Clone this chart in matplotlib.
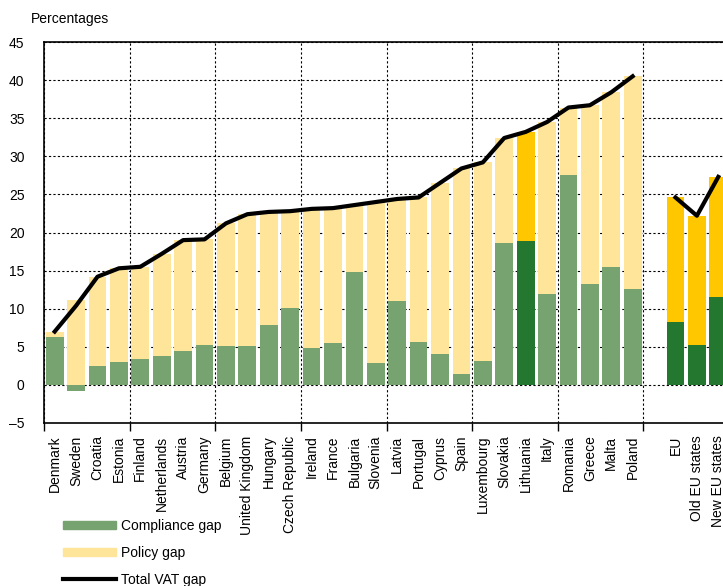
import numpy as np
import matplotlib
matplotlib.use("Agg")
import matplotlib.pyplot as plt
from matplotlib.patches import Patch
from matplotlib.lines import Line2D

FAM = ['Liberation Sans', 'DejaVu Sans']
plt.rcParams['font.family'] = FAM
FS = 10

countries = ["Denmark", "Sweden", "Croatia", "Estonia", "Finland", "Netherlands", "Austria",
             "Germany", "Belgium", "United Kingdom", "Hungary", "Czech Republic", "Ireland",
             "France", "Bulgaria", "Slovenia", "Latvia", "Portugal", "Cyprus", "Spain",
             "Luxembourg", "Slovakia", "Lithuania", "Italy", "Romania", "Greece", "Malta", "Poland"]
compliance = [6.3, -0.8, 2.5, 3.0, 3.4, 3.8, 4.5, 5.2, 5.1, 5.1, 7.9, 10.1, 4.8, 5.5, 14.8,
              2.9, 11.0, 5.6, 4.1, 1.4, 3.2, 18.6, 18.9, 11.9, 27.6, 13.2, 15.5, 12.6]
policy = [0.7, 11.2, 11.7, 12.3, 12.1, 13.4, 14.5, 13.9, 16.1, 17.3, 14.8, 12.7, 18.3, 17.7,
          8.8, 21.1, 13.4, 19.0, 22.4, 27.0, 26.0, 13.8, 14.3, 22.6, 8.8, 23.5, 22.9, 27.9]

groups = ["EU", "Old EU states", "New EU states"]
group_compliance = [8.2, 5.2, 11.5]
group_policy = [16.4, 17.0, 15.8]

highlight = ["Lithuania"]

C_LG = "#76A36F"
C_LY = "#FFE599"
C_DG = "#23772F"
C_DY = "#FFC700"

fig = plt.figure(figsize=(7.23, 5.86), dpi=100)
ax = fig.add_axes([44 / 723, 163 / 586, 685 / 723, 381 / 586])

n = len(countries)
xc = np.arange(n)
xg = np.arange(n + 1, n + 1 + len(groups))

comp = np.array(compliance)
pol = np.array(policy)
gcomp = np.array(group_compliance)
gpol = np.array(group_policy)

cc = [C_DG if c in highlight else C_LG for c in countries]
pc = [C_DY if c in highlight else C_LY for c in countries]

w = 0.83
ax.bar(xc, comp, width=w, color=cc, zorder=2)
ax.bar(xc, pol, bottom=np.where(comp > 0, comp, 0), width=w, color=pc, zorder=2)
ax.bar(xg, gcomp, width=w, color=C_DG, zorder=2)
ax.bar(xg, gpol, bottom=gcomp, width=w, color=C_DY, zorder=2)

ax.plot(xc, comp + pol, color="black", lw=3, zorder=3, solid_joinstyle="round")
ax.plot(xg, gcomp + gpol, color="black", lw=3, zorder=3, solid_joinstyle="round")

ax.set_xlim(-0.5, n + len(groups) + 0.5)
ax.set_ylim(-5, 45)
ax.set_yticks(np.arange(-5, 46, 5))
ax.set_yticklabels([f"{v}".replace("-", "\u2013") for v in range(-5, 46, 5)])

major = np.arange(-0.5, n + len(groups) + 0.6, 4)
ax.set_xticks(major)
ax.set_xticklabels([])
ax.set_xticks(list(xc) + list(xg), minor=True)
ax.set_xticklabels(countries + groups, minor=True, rotation=90, va="top", ha="center")

ax.tick_params(axis="x", which="major", length=6, width=1, direction="out")
ax.tick_params(axis="x", which="minor", length=0, pad=9, labelsize=FS)
ax.tick_params(axis="y", length=0, pad=14, labelsize=FS)

ax.grid(True, which="major", axis="both", color="black", linestyle=(0, (2, 2)), linewidth=0.8)
ax.set_axisbelow(True)

for s in ["left", "bottom", "top"]:
    ax.spines[s].set_linewidth(1.2)
ax.spines["right"].set_visible(False)

fig.text(31 / 723, 1 - 12 / 586, "Percentages", fontsize=FS, va="top", ha="left")

handles = [Patch(color=C_LG), Patch(color=C_LY), Line2D([], [], color="black", lw=3)]
labels = ["Compliance gap", "Policy gap", "Total VAT gap"]
fig.legend(handles, labels, loc="upper left", bbox_to_anchor=(63 / 723, 1 - 519 / 586),
           frameon=False, fontsize=FS, handlelength=3.8, handleheight=0.58,
           handletextpad=0.36, labelspacing=0.93, borderpad=0, borderaxespad=0)

fig.savefig("out.png", dpi=100)
